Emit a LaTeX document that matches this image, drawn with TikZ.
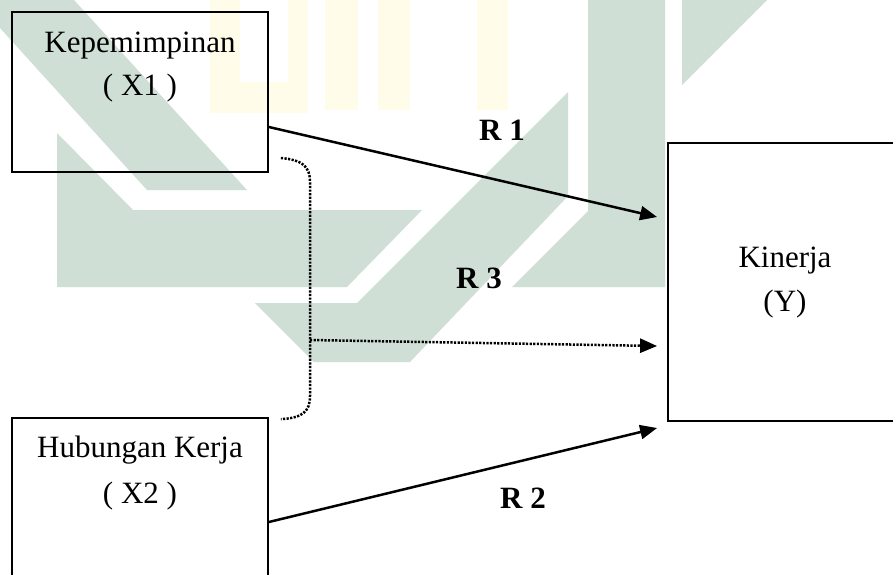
\documentclass[tikz,border=0pt]{standalone}
\usepackage{fontspec}
\setmainfont{Liberation Serif}
\usetikzlibrary{arrows.meta}
\definecolor{wmgreen}{RGB}{207,223,214}
\definecolor{wmyellow}{RGB}{255,252,234}
\begin{document}
\begin{tikzpicture}[x=1pt,y=-1pt,
  box/.style={draw=black, line width=1.8pt, inner sep=0pt},
  lbl/.style={anchor=base, inner sep=0pt, font=\fontsize{31}{37}\selectfont},
  rlbl/.style={anchor=base, inner sep=0pt, font=\fontsize{31}{37}\selectfont\bfseries},
  arr/.style={line width=2.5pt, -{Triangle[length=17pt,width=14pt]}},
  dotline/.style={line width=2.5pt, dash pattern=on 2.2pt off 1.4pt}]
\clip (0,0) rectangle (893,574);
\fill[white] (0,0) rectangle (893,574);
% watermark
\fill[wmyellow] (210,0) rectangle (240,113);
\fill[wmyellow] (210,82) rectangle (308,113);
\fill[wmyellow] (288,0) rectangle (308,113);
\fill[wmyellow] (325,0) rectangle (358,110);
\fill[wmyellow] (378,0) rectangle (410,110);
\fill[wmyellow] (477,0) rectangle (508,110);
\fill[wmgreen] (74,0) -- (247,190) -- (147,190) -- (0,28) -- (0,0) -- cycle;
\fill[wmgreen] (57,133) -- (133,210) -- (422,210) -- (347,287) -- (57,287) -- cycle;
\fill[wmgreen] (255,303) -- (357,303) -- (568,92) -- (568,196) -- (410,362) -- (314,362) -- cycle;
\fill[wmgreen] (588,0) -- (665,0) -- (665,287) -- (512,287) -- (588,211) -- cycle;
\fill[wmgreen] (682,0) -- (767,0) -- (682,85) -- cycle;
% boxes
\node[box, minimum width=256pt, minimum height=160pt] (x1) at (140,92) {};
\node[box, minimum width=256pt, minimum height=182pt] (x2) at (140,509) {};
\node[box, minimum width=252pt, minimum height=278pt] (y) at (794,282) {};
% texts
\node[lbl] (t1a) at (140,52) {Kepemimpinan};
\node[lbl] (t1b) at (140,95) {( X1 )};
\node[lbl] (t2a) at (140,457) {Hubungan Kerja};
\node[lbl] (t2b) at (140,503) {( X2 )};
\node[lbl] (tya) at (785,267) {Kinerja};
\node[lbl] (tyb) at (785,311) {(Y)};
\node[rlbl] (r1) at (502,140) {R 1};
\node[rlbl] (r3) at (479,288) {R 3};
\node[rlbl] (r2) at (523,508) {R 2};
% connector end points
\coordinate (r1s) at ([yshift=-35pt]x1.east);
\coordinate (r1e) at ([xshift=-10pt,yshift=65pt]y.west);
\coordinate (r2s) at ([yshift=-13pt]x2.east);
\coordinate (r2e) at ([xshift=-10pt,yshift=-146pt]y.west);
\coordinate (r3e) at ([xshift=-10pt,yshift=-64pt]y.west);
\coordinate (bt) at ([xshift=12pt,yshift=-66pt]x1.east);
\coordinate (bb) at ([xshift=12pt,yshift=-2pt]x2.north east);
\coordinate (bm) at (310,340);
% connectors
\draw[arr] (r1s) -- (r1e);
\draw[arr] (r2s) -- (r2e);
\draw[dotline] (bt) .. controls (302,160) and (310,166) .. (310,182) -- (310,396) .. controls (310,412) and (302,418) .. (bb);
\draw[dotline, -{Triangle[length=17pt,width=14pt]}] (bm) -- (r3e);
\end{tikzpicture}
\end{document}
